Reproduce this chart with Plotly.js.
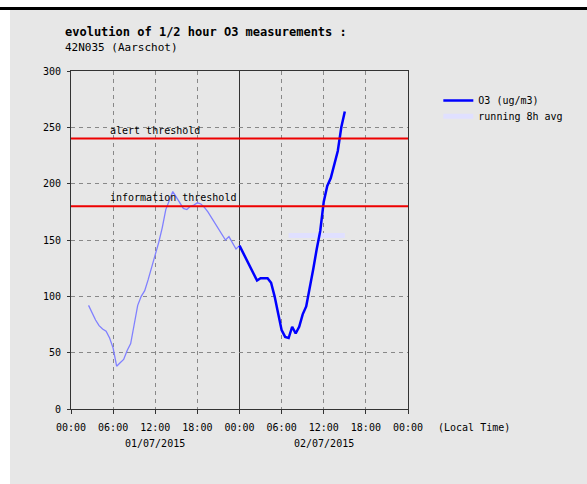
<!DOCTYPE html>
<html>
<head>
<meta charset="utf-8">
<script src="https://cdn.plot.ly/plotly-3.0.1.min.js"></script>
<style>
  html, body { margin: 0; padding: 0; background: #ffffff; width: 587px; height: 484px; overflow: hidden; }
  #topbar { position: absolute; left: 0; top: 7px; width: 587px; height: 3px; background: #000; }
  #panel { position: absolute; left: 10px; top: 10px; width: 577px; height: 474px; background: #e7e7e7; }
  #chart { position: absolute; left: 0; top: 0; width: 587px; height: 484px; }
</style>
</head>
<body>
<div id="topbar"></div>
<div id="panel"></div>
<div id="chart"></div>
<script>
// ---- data (hours since 01/07/2015 00:00, O3 in ug/m3) ----
const day1Hours = [2.5, 3, 3.5, 4, 4.5, 5, 5.5, 6, 6.5, 7, 7.5, 8, 8.5, 9, 9.5, 10, 10.5, 11, 11.5, 12,
                   12.5, 13, 13.5, 14, 14.5, 15, 15.5, 16, 16.5, 17, 17.5, 18, 18.5, 19, 19.5, 20, 20.5,
                   21, 21.5, 22, 22.5, 23, 23.5, 24];
const day1Values = [92, 85, 79, 74, 71, 69, 63, 54, 38, 41, 44, 52, 58, 75, 92, 100, 105, 115, 127, 137,
                    148, 161, 177, 186, 193, 188, 183, 178, 177, 180, 181, 183, 182, 179, 175, 170, 166,
                    161, 156, 150, 153, 148, 142, 145];
const day2Hours = [24, 24.5, 25, 25.5, 26, 26.5, 27, 27.5, 28, 28.5, 29, 29.5, 30, 30.5, 31, 31.5, 32,
                   32.5, 33, 33.5, 34, 34.5, 35, 35.5, 36, 36.5, 37, 37.5, 38, 38.5, 39];
const day2Values = [145, 139, 132, 126, 120, 114, 116, 116, 116, 112, 100, 85, 70, 64, 63, 73, 67,
                    73, 84, 91, 106, 124, 142, 158, 184, 198, 205, 217, 229, 250, 264];
const avgHours = [31, 32, 33, 34, 35, 36, 37, 38, 39];
const avgValues = [154, 154, 154, 154, 154, 154, 154, 154, 154];
const thresholds = [240, 180];
const thresholdLabels = ['alert threshold', 'information threshold'];
const tickHours = [0, 6, 12, 18, 24, 30, 36, 42, 48];
const tickLabels = ['00:00', '06:00', '12:00', '18:00', '00:00', '06:00', '12:00', '18:00', '00:00'];
const gridHours = [6, 12, 18, 30, 36, 42];
const dayBoundaryHours = [24];
const dateLabels = ['01/07/2015', '02/07/2015'];
const dateLabelHours = [12, 36];

const mono = 'DejaVu Sans Mono, Liberation Mono, monospace';

const traces = [
  { x: day1Hours, y: day1Values, mode: 'lines', line: { color: '#8080ff', width: 1.3 },
    showlegend: false, hoverinfo: 'skip' },
  { x: avgHours, y: avgValues, mode: 'lines', name: 'running 8h avg',
    line: { color: '#e0e0ff', width: 5 }, legend: 'legend2' },
  { x: day2Hours, y: day2Values, mode: 'lines', name: 'O3 (ug/m3)',
    line: { color: '#0000ff', width: 2.5 }, legend: 'legend' }
];

const shapes = thresholds.map(t => ({
  type: 'line', xref: 'paper', x0: 0, x1: 1, yref: 'y', y0: t, y1: t,
  line: { color: '#ee0000', width: 2 }, layer: 'above'
}));
dayBoundaryHours.forEach(h => shapes.push({ type: 'line', xref: 'x', x0: h, x1: h, yref: 'paper', y0: 0, y1: 1,
  line: { color: '#333333', width: 1 }, layer: 'between' }));

const annotations = thresholds.map((t, i) => ({
  x: 5.3, y: t, xref: 'x', yref: 'y', xanchor: 'left', yanchor: 'bottom', yshift: 1,
  text: thresholdLabels[i], showarrow: false, font: { family: mono, size: 10, color: '#000' }
}));
dateLabelHours.forEach((h, i) => annotations.push({
  x: h, y: 0, xref: 'x', yref: 'y', yanchor: 'middle', yshift: -34,
  text: dateLabels[i], showarrow: false, font: { family: mono, size: 10, color: '#000' }
}));
annotations.push({ x: 48, y: 0, xref: 'x', yref: 'y', xanchor: 'left', yanchor: 'middle',
  xshift: 28, yshift: -18, text: '(Local Time)', showarrow: false,
  font: { family: mono, size: 10, color: '#000' } });
annotations.push({ xref: 'paper', yref: 'paper', x: -0.025, y: 1.114, xanchor: 'left', yanchor: 'middle',
  text: '<b>evolution of 1/2 hour O3 measurements :</b>', showarrow: false,
  font: { family: mono, size: 12, color: '#000' } });
annotations.push({ xref: 'paper', yref: 'paper', x: -0.025, y: 1.071, xanchor: 'left', yanchor: 'middle',
  text: '42N035 (Aarschot)', showarrow: false,
  font: { family: mono, size: 11, color: '#000' } });

const legendBase = { xanchor: 'left', yanchor: 'middle', bgcolor: 'rgba(0,0,0,0)',
  font: { family: mono, size: 10, color: '#000' }, itemwidth: 30 };

const layout = {
  width: 587, height: 484,
  margin: { l: 71, r: 179, t: 71, b: 75 },
  paper_bgcolor: 'rgba(0,0,0,0)',
  plot_bgcolor: 'rgba(0,0,0,0)',
  font: { family: mono, size: 10, color: '#000' },
  showlegend: true,
  legend: Object.assign({}, legendBase, { x: 1.09, y: 0.913 }),
  legend2: Object.assign({}, legendBase, { x: 1.09, y: 0.866 }),
  xaxis: {
    range: [0, 48], tickmode: 'array', tickvals: tickHours, ticktext: tickLabels,
    showgrid: false,
    minor: { tickmode: 'array', tickvals: gridHours, showgrid: true, gridcolor: '#888888',
             griddash: '4px,4px', gridwidth: 1, ticks: '' },
    showline: true, linecolor: '#333333', linewidth: 1, mirror: true,
    ticks: 'outside', ticklen: 4, tickcolor: '#333333', ticklabelstandoff: 5,
    zeroline: false, fixedrange: true
  },
  yaxis: {
    range: [0, 300], dtick: 50, tick0: 0,
    showgrid: true, gridcolor: '#888888', griddash: '4px,4px', gridwidth: 1,
    showline: true, linecolor: '#333333', linewidth: 1, mirror: true,
    ticks: 'outside', ticklen: 3, tickcolor: '#333333', ticklabelstandoff: 4,
    zeroline: false, fixedrange: true
  },
  shapes: shapes,
  annotations: annotations
};

Plotly.newPlot('chart', traces, layout, { displayModeBar: false, staticPlot: true });
</script>
</body>
</html>
